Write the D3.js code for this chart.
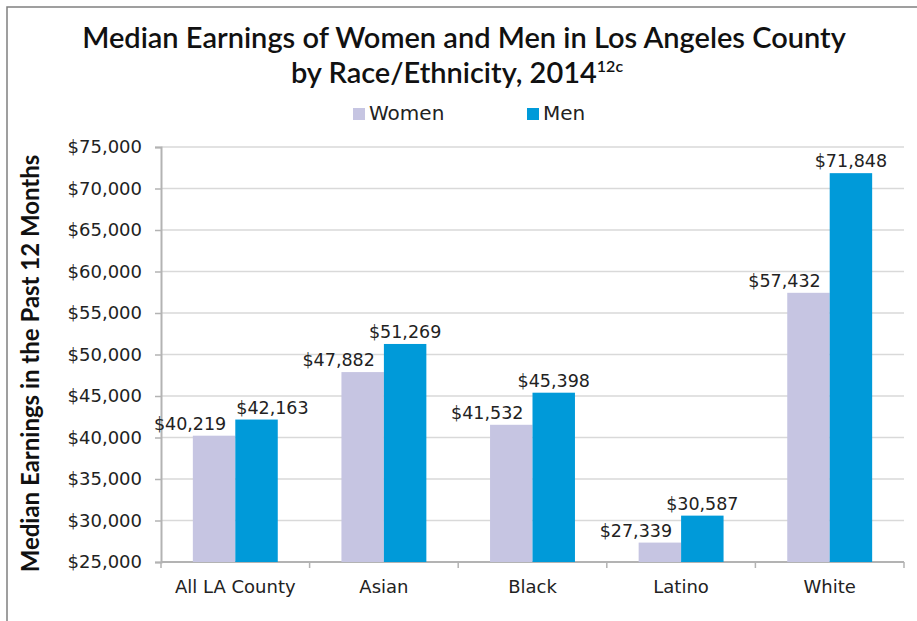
<!DOCTYPE html>
<html>
<head>
<meta charset="utf-8">
<script src="https://cdn.jsdelivr.net/npm/d3@7"></script>
<style>
  body { margin: 0; background: #fff; }
  svg { display: block; }
</style>
</head>
<body>
<svg id="chart" width="917" height="621"></svg>
<script>
// chart data
const categories = ["All LA County", "Asian", "Black", "Latino", "White"];
const seriesNames = ["Women", "Men"];
const women = [40219, 47882, 41532, 27339, 57432];
const men = [42163, 51269, 45398, 30587, 71848];
const yTicks = [25000, 30000, 35000, 40000, 45000, 50000, 55000, 60000, 65000, 70000, 75000];

const colors = { Women: "#c6c5e2", Men: "#009ad9" };
const margin = { top: 147, right: 13, bottom: 59, left: 161 };
const width = 917, height = 621;
const numFont = "'DejaVu Sans', sans-serif";
const titleFont = "Lato, 'Open Sans', sans-serif";

const svg = d3.select("#chart");

// outer frame (top + left edges visible)
svg.append("path")
    .attr("d", `M7,${height} L7,7 L${width},7`)
    .attr("fill", "none")
    .attr("stroke", "#808080")
    .attr("stroke-width", 1.5);

const x0 = d3.scaleBand()
    .domain(categories)
    .range([margin.left, width - margin.right]);

const gap = x0.bandwidth() * 1.5 / 3.5;
const x1 = d3.scaleBand()
    .domain(seriesNames)
    .range([gap / 2, x0.bandwidth() - gap / 2]);

const y = d3.scaleLinear()
    .domain([25000, 75000])
    .range([height - margin.bottom, margin.top]);

const fmt = d3.format("$,");

// shrink/grow a text so it spans a given width
function fitWidth(sel, target) {
    const len = sel.node().getComputedTextLength();
    const fs = +sel.attr("font-size");
    sel.attr("font-size", fs * target / len);
}

// gridlines
svg.append("g")
    .selectAll("line")
    .data(yTicks.slice(1))
    .join("line")
    .attr("x1", margin.left)
    .attr("x2", width - margin.right)
    .attr("y1", d => y(d))
    .attr("y2", d => y(d))
    .attr("stroke", "#d9d9d9")
    .attr("stroke-width", 1.5);

// y axis
const yAxis = svg.append("g")
    .attr("transform", `translate(${margin.left},0)`)
    .call(d3.axisLeft(y).tickValues(yTicks).tickFormat(fmt).tickSize(6).tickPadding(13));
yAxis.select(".domain").attr("stroke", "#b3b3b3").attr("stroke-width", 2);
yAxis.selectAll(".tick line").attr("stroke", "#b3b3b3").attr("stroke-width", 1.5);
yAxis.selectAll(".tick text")
    .attr("font-family", numFont)
    .attr("font-size", 18)
    .attr("fill", "#222");

// x axis with ticks at category boundaries
const xAxis = svg.append("g")
    .attr("transform", `translate(0,${y(25000)})`);
xAxis.append("line")
    .attr("x1", margin.left).attr("x2", width - margin.right)
    .attr("stroke", "#b3b3b3").attr("stroke-width", 2);
xAxis.selectAll(".bound")
    .data(categories.concat(["end"]))
    .join("line")
    .attr("class", "bound")
    .attr("x1", (d, i) => margin.left + i * x0.step())
    .attr("x2", (d, i) => margin.left + i * x0.step())
    .attr("y1", 0).attr("y2", 6)
    .attr("stroke", "#b3b3b3").attr("stroke-width", 1.5);
xAxis.selectAll(".cat")
    .data(categories)
    .join("text")
    .attr("class", "cat")
    .attr("x", d => x0(d) + x0.bandwidth() / 2)
    .attr("y", 31)
    .attr("text-anchor", "middle")
    .attr("font-family", numFont)
    .attr("font-size", 18)
    .attr("fill", "#222")
    .text(d => d);

// bars
const rows = categories.map((c, i) => ({
    category: c,
    values: [{ key: "Women", value: women[i] }, { key: "Men", value: men[i] }]
}));

const groups = svg.append("g")
    .selectAll("g")
    .data(rows)
    .join("g")
    .attr("transform", d => `translate(${x0(d.category)},0)`);

groups.selectAll("rect")
    .data(d => d.values)
    .join("rect")
    .attr("x", d => x1(d.key))
    .attr("width", x1.bandwidth())
    .attr("y", d => y(d.value))
    .attr("height", d => y(25000) - y(d.value))
    .attr("fill", d => colors[d.key]);

// data labels: women nudged left, men nudged right only if they would collide
const labelSize = 17.5;
groups.each(function (d) {
    const g = d3.select(this);
    const w = d.values[0], m = d.values[1];
    const tw = g.append("text")
        .attr("x", x1("Women") + x1.bandwidth() / 2 - 24)
        .attr("y", y(w.value) - 6)
        .attr("text-anchor", "middle")
        .attr("font-family", numFont)
        .attr("font-size", labelSize)
        .attr("fill", "#222")
        .text(fmt(w.value));
    const wb = tw.node().getBBox();
    let mx = x1("Men") + x1.bandwidth() / 2;
    const tm = g.append("text")
        .attr("x", mx)
        .attr("y", y(m.value) - 6)
        .attr("text-anchor", "middle")
        .attr("font-family", numFont)
        .attr("font-size", labelSize)
        .attr("fill", "#222")
        .text(fmt(m.value));
    const mb = tm.node().getBBox();
    if (Math.abs(y(m.value) - y(w.value)) < mb.height && mb.x < wb.x + wb.width + 10) {
        mx += wb.x + wb.width + 10 - mb.x;
        tm.attr("x", mx);
    }
});

// title
const t1 = svg.append("text")
    .attr("x", 464).attr("y", 48)
    .attr("text-anchor", "middle")
    .attr("font-family", titleFont)
    .attr("font-weight", 600)
    .attr("font-size", 28)
    .attr("fill", "#111")
    .text("Median Earnings of Women and Men in Los Angeles County");
fitWidth(t1, 764);
const t2 = svg.append("text")
    .attr("x", 457).attr("y", 83)
    .attr("text-anchor", "middle")
    .attr("font-family", titleFont)
    .attr("font-weight", 600)
    .attr("font-size", t1.attr("font-size"))
    .attr("fill", "#111")
    .text("by Race/Ethnicity, 2014");
t2.append("tspan").attr("font-size", 16).attr("dy", -11).text("12c");

// legend
const legend = svg.append("g").attr("transform", "translate(353,108)");
const legendItems = legend.selectAll("g")
    .data(seriesNames)
    .join("g")
    .attr("transform", (d, i) => `translate(${i * 174},0)`);
legendItems.append("rect")
    .attr("width", 12).attr("height", 12)
    .attr("fill", d => colors[d]);
legendItems.append("text")
    .attr("x", 16).attr("y", 12)
    .attr("font-family", numFont)
    .attr("font-size", 20)
    .attr("fill", "#222")
    .text(d => d);

// y axis title
const yt = svg.append("text")
    .attr("transform", `translate(39,${(margin.top + y(25000)) / 2 + 9}) rotate(-90)`)
    .attr("text-anchor", "middle")
    .attr("font-family", titleFont)
    .attr("font-weight", 700)
    .attr("font-size", 22)
    .attr("fill", "#111")
    .text("Median Earnings in the Past 12 Months");
fitWidth(yt, 418);
</script>
</body>
</html>
